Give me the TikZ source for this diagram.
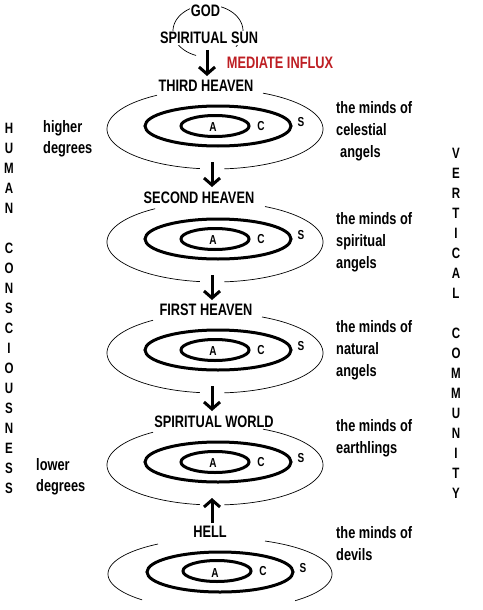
\documentclass[tikz,border=0pt]{standalone}
\usepackage{fontspec}
\setmainfont{Liberation Sans}[FakeStretch=0.77]
\usetikzlibrary{shapes.geometric,arrows.meta}
\definecolor{influx}{RGB}{190,30,35}
\tikzset{
  lbl/.style={font=\bfseries\fontsize{16.6}{16.6}\selectfont, inner sep=1pt},
  side/.style={font=\bfseries\fontsize{16.6}{16.6}\selectfont, inner sep=0pt, anchor=base west},
  vlet/.style={font=\bfseries\fontsize{15}{15}\selectfont, inner sep=0pt},
  ring/.style={font=\bfseries\fontsize{13}{13}\selectfont, inner sep=0pt},
  thickell/.style={draw, ellipse, line width=3pt, minimum width=146pt, minimum height=40pt, inner sep=0pt},
  innerell/.style={draw, ellipse, line width=3pt, minimum width=68pt, minimum height=21pt, inner sep=0pt},
  thinline/.style={line width=0.7pt},
  arr/.style={line width=3pt, -{Straight Barb[length=7pt,width=16pt]}}
}
\begin{document}
\begin{tikzpicture}[x=1pt,y=-1pt]
\path[use as bounding box, fill=white] (0,0) rectangle (482,610);

% ---- God / spiritual sun
\draw[thinline] plot[domain=110:396.9, samples=90] ({208+35*cos(\x)},{31+26*sin(\x)});
\node[lbl, fill=white] (god) at (205.5,11) {GOD};
\node[lbl, fill=white] (sun) at (209,38) {SPIRITUAL SUN};
\node[lbl, text=influx] (influx) at (280,63) {MEDIATE INFLUX};
\coordinate (a1s) at (207,50);
\coordinate (a1e) at (207,76);
\draw[arr] (a1s) -- (a1e);

% ---- Level 1: third heaven
\node[lbl] (third) at (206,86) {THIRD HEAVEN};
\draw[thinline] plot[domain=-63.6:85, samples=60] ({215+108*cos(\x)},{129+40*sin(\x)});
\draw[thinline] plot[domain=98:237.5, samples=60] ({215+108*cos(\x)},{129+40*sin(\x)});
\node[thickell] (c1) at (218,126) {};
\node[innerell] (i1) at (215,126) {};
\node[ring] (a1) at (213,127) {A};
\node[ring] (cc1) at (261,126) {C};
\node[ring] (s1) at (301,122) {S};
\coordinate (a2s) at (212,162);
\coordinate (a2e) at (212,187);
\draw[arr] (a2s) -- (a2e);

% ---- Level 2: second heaven
\node[lbl] (second) at (199,198) {SECOND HEAVEN};
\draw[thinline] plot[domain=-62.4:85, samples=60] ({215+108*cos(\x)},{242+40*sin(\x)});
\draw[thinline] plot[domain=98:236.3, samples=60] ({215+108*cos(\x)},{242+40*sin(\x)});
\node[thickell] (c2) at (218,239) {};
\node[innerell] (i2) at (215,239) {};
\node[ring] (a2) at (213,240) {A};
\node[ring] (cc2) at (261,239) {C};
\node[ring] (s2) at (301,235) {S};
\coordinate (a3s) at (212,275);
\coordinate (a3e) at (212,300);
\draw[arr] (a3s) -- (a3e);

% ---- Level 3: first heaven
\node[lbl] (first) at (206,310) {FIRST HEAVEN};
\draw[thinline] plot[domain=-64.2:85, samples=60] ({215+108*cos(\x)},{353+40*sin(\x)});
\draw[thinline] plot[domain=98:235, samples=60] ({215+108*cos(\x)},{353+40*sin(\x)});
\node[thickell] (c3) at (218,350) {};
\node[innerell] (i3) at (215,350) {};
\node[ring] (a3) at (213,351) {A};
\node[ring] (cc3) at (261,350) {C};
\node[ring] (s3) at (301,346) {S};
\coordinate (a4s) at (212,386);
\coordinate (a4e) at (212,411);
\draw[arr] (a4s) -- (a4e);

% ---- Level 4: spiritual world
\node[lbl] (world) at (214,422) {SPIRITUAL WORLD};
\draw[thinline] plot[domain=-63.6:85, samples=60] ({215+108*cos(\x)},{465+40*sin(\x)});
\draw[thinline] plot[domain=98:235, samples=60] ({215+108*cos(\x)},{465+40*sin(\x)});
\node[thickell] (c4) at (218,462) {};
\node[innerell] (i4) at (215,462) {};
\node[ring] (a4) at (213,463) {A};
\node[ring] (cc4) at (261,462) {C};
\node[ring] (s4) at (301,458) {S};
\coordinate (a5s) at (212,523);
\coordinate (a5e) at (212,498);
\draw[arr] (a5s) -- (a5e);

% ---- Level 5: hell
\node[lbl] (hell) at (210,532) {HELL};
\draw[thinline] plot[domain=-66.3:47.9, samples=60] ({220+112*cos(\x)},{574+36*sin(\x)});
\draw[thinline] plot[domain=134.1:236.4, samples=60] ({220+112*cos(\x)},{574+36*sin(\x)});
\node[thickell] (c5) at (220,572) {};
\node[innerell] (i5) at (217,571) {};
\node[ring] (a5) at (215,573) {A};
\node[ring] (cc5) at (263,571) {C};
\node[ring] (s5) at (303,568) {S};

% ---- right-hand descriptions
\node[side] (m1) at (336,113) {the minds of};
\node[side] (m1b) at (336,135) {celestial};
\node[side] (m1c) at (340,157) {angels};
\node[side] (m2) at (336,224) {the minds of};
\node[side] (m2b) at (336,246) {spiritual};
\node[side] (m2c) at (336,268) {angels};
\node[side] (m3) at (336,332) {the minds of};
\node[side] (m3b) at (336,354) {natural};
\node[side] (m3c) at (336,376) {angels};
\node[side] (m4) at (336,431) {the minds of};
\node[side] (m4b) at (336,453) {earthlings};
\node[side] (m5) at (336,538) {the minds of};
\node[side] (m5b) at (336,560) {devils};

% ---- left-hand degrees
\node[side] (hi1) at (43,132) {higher};
\node[side] (hi2) at (43,153) {degrees};
\node[side] (lo1) at (36,470) {lower};
\node[side] (lo2) at (36,491) {degrees};

% ---- vertical words
\foreach \ch [count=\i from 0] in {H,U,M,A,N}
  \node[vlet] (hl\i) at (9,128+20*\i) {\ch};
\foreach \ch [count=\i from 0] in {C,O,N,S,C,I,O,U,S,N,E,S,S}
  \node[vlet] (hc\i) at (9,248+20*\i) {\ch};
\foreach \ch [count=\i from 0] in {V,E,R,T,I,C,A,L}
  \node[vlet] (vv\i) at (456,153+20*\i) {\ch};
\foreach \ch [count=\i from 0] in {C,O,M,M,U,N,I,T,Y}
  \node[vlet] (vc\i) at (456,333+20*\i) {\ch};
\end{tikzpicture}
\end{document}
